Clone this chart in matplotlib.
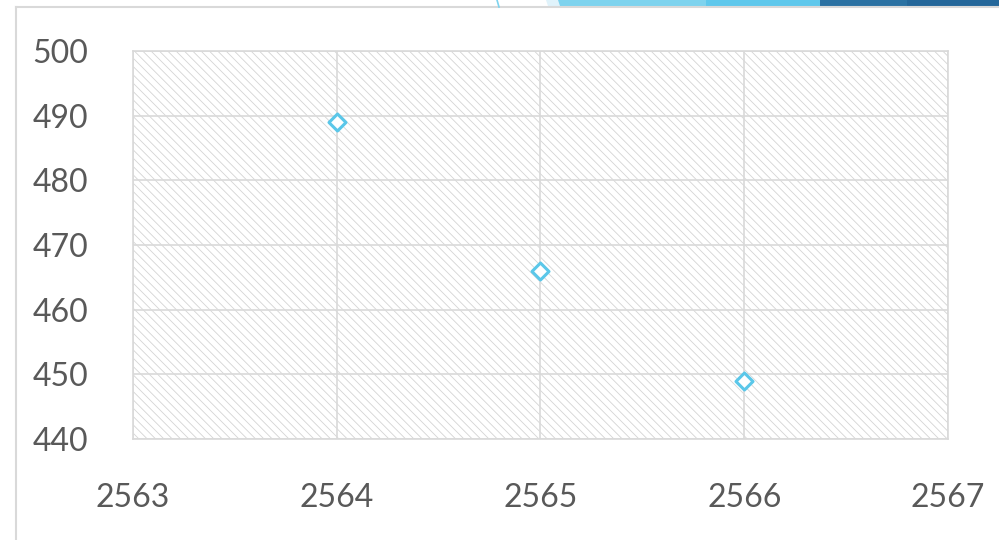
import matplotlib
matplotlib.use('Agg')
import matplotlib.pyplot as plt
from matplotlib.patches import Rectangle, Polygon
from matplotlib.lines import Line2D

years = [2564, 2565, 2566]
values = [489, 466, 449]

x_ticks = [2563, 2564, 2565, 2566, 2567]
y_ticks = [440, 450, 460, 470, 480, 490, 500]

plt.rcParams['font.family'] = ['Lato', 'DejaVu Sans']
plt.rcParams['hatch.linewidth'] = 0.6

fig = plt.figure(figsize=(9.99, 5.4), dpi=100)
ax = fig.add_axes([0.1331, 0.187, 0.8158, 0.7186])

# hatched plot area
ax.add_patch(Rectangle((0, 0), 1, 1, transform=ax.transAxes, facecolor='white',
                       edgecolor='#d4d4d4', hatch='\\\\\\\\', lw=0, zorder=0))

ax.scatter(years, values, marker='D', s=75, facecolors='white',
           edgecolors='#5bc7e9', linewidths=2.2, zorder=3)

ax.set_xlim(2563, 2567)
ax.set_ylim(440, 500)
ax.set_xticks(x_ticks)
ax.set_yticks(y_ticks)
ax.grid(True, color='#d9d9d9', lw=1.2)
ax.set_axisbelow(True)
for s in ax.spines.values():
    s.set_color('#d9d9d9')
    s.set_linewidth(1.2)
ax.tick_params(length=0, labelsize=23, labelcolor='#595959')
ax.tick_params(axis='y', pad=32)
ax.tick_params(axis='x', pad=32)

# chart frame
fig.add_artist(Line2D([16 / 999, 16 / 999], [0, 1 - 7 / 540], color='#d9d9d9', lw=1.5))
fig.add_artist(Line2D([16 / 999, 1], [1 - 7 / 540, 1 - 7 / 540], color='#d9d9d9', lw=1.5))

# banner shapes along the top edge
def band(x0, x1, color, slant=3):
    pts = [(x0 / 999, 1), (x1 / 999, 1), ((x1 + slant) / 999, 1 - 6 / 540),
           ((x0 + slant) / 999, 1 - 6 / 540)]
    fig.add_artist(Polygon(pts, closed=True, facecolor=color, edgecolor='none'))

band(546, 561, '#e0f3fb', slant=2)
band(558, 708, '#7ed3ee', slant=2)
band(706, 820, '#5fc8ec', slant=0)
band(820, 907, '#2b72a3', slant=0)
band(907, 1000, '#24679a', slant=0)
fig.add_artist(Line2D([497 / 999, 499 / 999], [1, 1 - 7 / 540], color='#7ed3ee', lw=1.2))

fig.savefig('out.png', dpi=100)
